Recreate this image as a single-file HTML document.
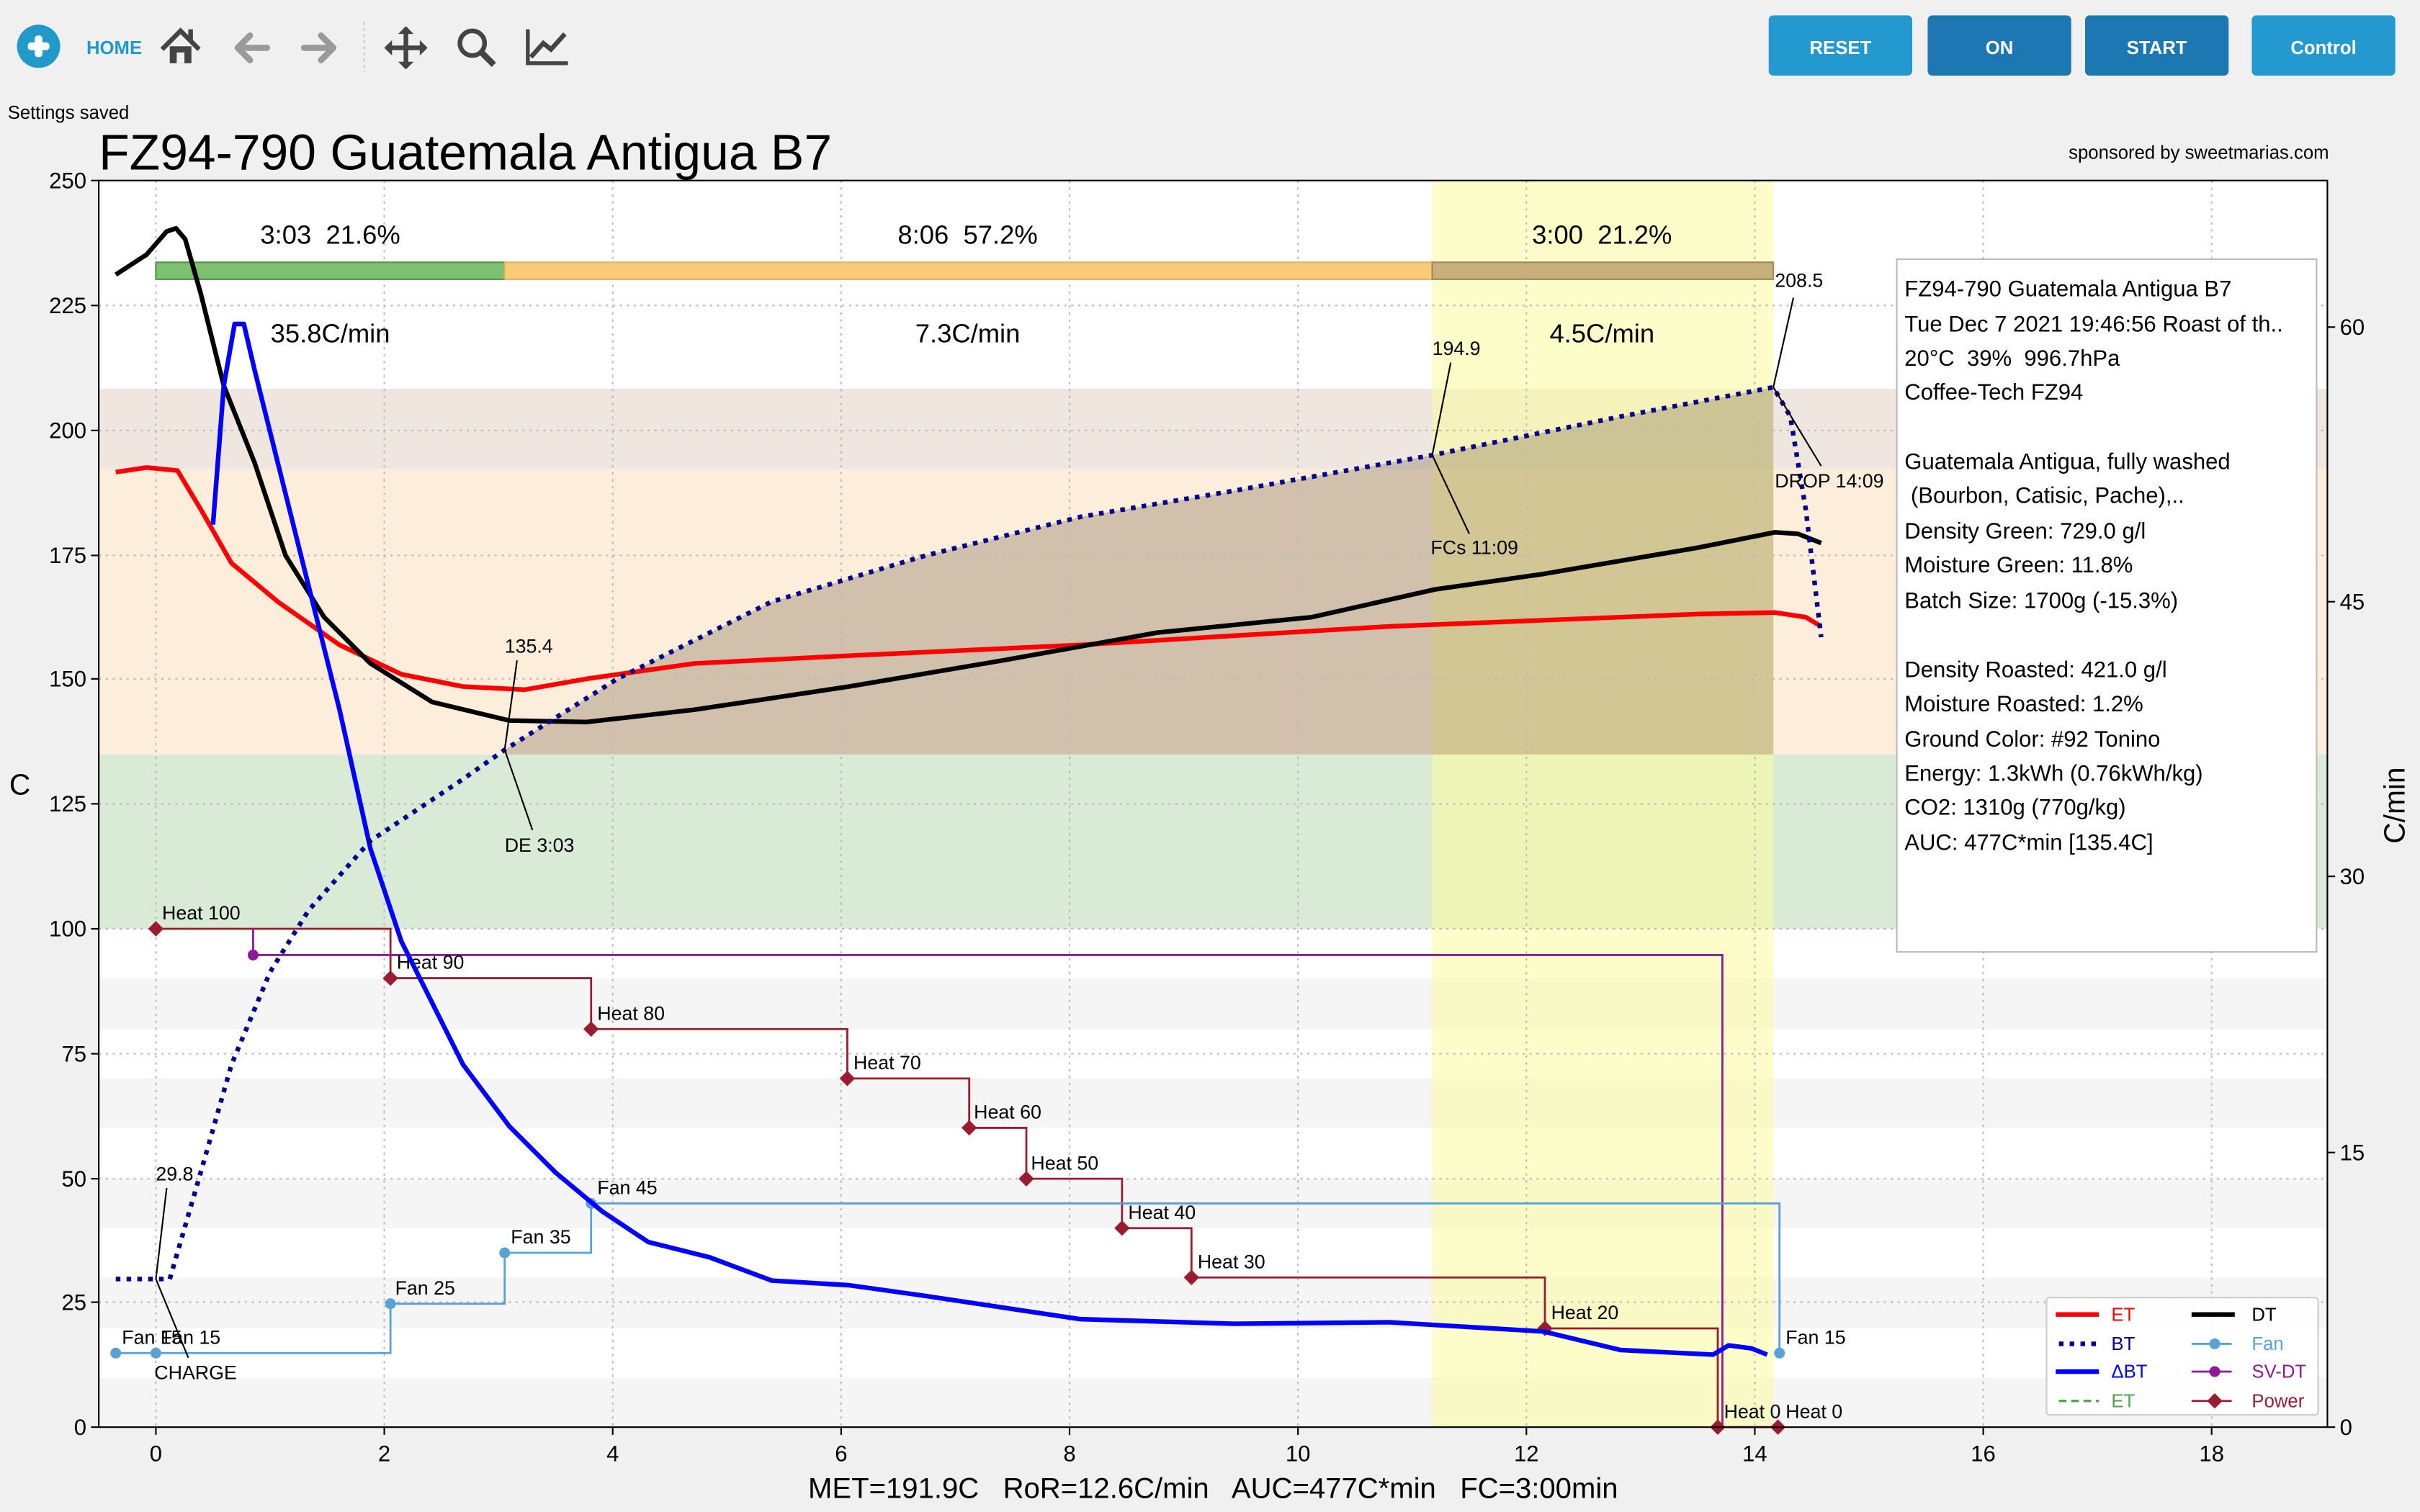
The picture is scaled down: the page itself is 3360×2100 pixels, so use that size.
<!DOCTYPE html>
<html><head><meta charset="utf-8"><style>
html,body{margin:0;padding:0;background:#f0f0f0;}
svg{display:block;font-family:"Liberation Sans",sans-serif;}
text{white-space:pre;}
</style></head><body>
<svg width="3360" height="2100" viewBox="0 0 1568 980" xmlns="http://www.w3.org/2000/svg" xml:space="preserve">
<rect width="1568" height="980" fill="#f0f0f0"/>
<circle cx="25" cy="30" r="14" fill="#229ac9"/>
<rect x="18" y="27.5" width="14" height="5" rx="2" fill="#fff"/><rect x="22.5" y="23" width="5" height="14" rx="2" fill="#fff"/>
<text x="56" y="35" font-size="12" font-weight="bold" fill="#229ac9">HOME</text>
<path d="M105 32 L117 20 L129 32" stroke="#444" stroke-width="3" fill="none"/><rect x="110" y="30" width="14" height="11" fill="#444"/><rect x="114.5" y="34" width="5" height="7" fill="#f0f0f0"/><rect x="122" y="19" width="3" height="8" fill="#444"/>
<path d="M173 31 H154 M162 23 L154 31 L162 39" stroke="#9a9a9a" stroke-width="4" fill="none" stroke-linecap="round" stroke-linejoin="round"/>
<path d="M197 31 H216 M208 23 L216 31 L208 39" stroke="#9a9a9a" stroke-width="4" fill="none" stroke-linecap="round" stroke-linejoin="round"/>
<line x1="236" y1="14" x2="236" y2="47" stroke="#ccc" stroke-dasharray="2,2"/>
<path d="M263 18 V44 M250 31 H276" stroke="#444" stroke-width="3"/><path d="M258 22 L263 17 L268 22 Z M258 40 L263 45 L268 40 Z M254 26 L249 31 L254 36 Z M272 26 L277 31 L272 36Z" fill="#444"/>
<circle cx="306" cy="28" r="8" stroke="#444" stroke-width="3" fill="none"/><line x1="312" y1="34" x2="320" y2="42" stroke="#444" stroke-width="4"/>
<path d="M342 19 V41 H368" stroke="#444" stroke-width="2.5" fill="none"/><path d="M344 37 L352 28 L357 32 L366 22" stroke="#444" stroke-width="3" fill="none"/>
<rect x="1146" y="10" width="93" height="39" rx="3" fill="#2399cf"/><text x="1192.5" y="35" font-size="12" font-weight="bold" fill="#fff" text-anchor="middle">RESET</text>
<rect x="1249" y="10" width="93" height="39" rx="3" fill="#1d77b3"/><text x="1295.5" y="35" font-size="12" font-weight="bold" fill="#fff" text-anchor="middle">ON</text>
<rect x="1351" y="10" width="93" height="39" rx="3" fill="#1d77b3"/><text x="1397.5" y="35" font-size="12" font-weight="bold" fill="#fff" text-anchor="middle">START</text>
<rect x="1459" y="10" width="93" height="39" rx="3" fill="#2399cf"/><text x="1505.5" y="35" font-size="12" font-weight="bold" fill="#fff" text-anchor="middle">Control</text>
<text x="5" y="77" font-size="12" fill="#000">Settings saved</text>
<text x="64" y="110" font-size="32.5" fill="#000">FZ94-790 Guatemala Antigua B7</text>
<text x="1509" y="103" font-size="12" fill="#000" text-anchor="end">sponsored by sweetmarias.com</text>
<rect x="64" y="117" width="1444" height="808" fill="#fff"/>
<rect x="64" y="634" width="1444" height="33" fill="#f5f5f5"/>
<rect x="64" y="699" width="1444" height="32" fill="#f5f5f5"/>
<rect x="64" y="764" width="1444" height="32" fill="#f5f5f5"/>
<rect x="64" y="828" width="1444" height="33" fill="#f5f5f5"/>
<rect x="64" y="893" width="1444" height="32" fill="#f5f5f5"/>
<rect x="64" y="489" width="1444" height="113" fill="#d9ebd6"/>
<rect x="64" y="304" width="1444" height="185" fill="#fdeedb"/>
<rect x="64" y="252" width="1444" height="52" fill="#efe6e0"/>
<rect x="928" y="117" width="221" height="808" fill="#fbfb9c" opacity="0.55"/>
<polygon points="327,486 400,440 500,390 600,360 700,335 800,318 928,295 1050,270 1149,251 1149,489 327,489" fill="#6e5a40" opacity="0.3"/>
<g stroke="#bbb" stroke-width="1" stroke-dasharray="1.5,3">
<line x1="101" y1="117" x2="101" y2="925"/><line x1="249" y1="117" x2="249" y2="925"/><line x1="397" y1="117" x2="397" y2="925"/><line x1="545" y1="117" x2="545" y2="925"/><line x1="693" y1="117" x2="693" y2="925"/><line x1="841" y1="117" x2="841" y2="925"/><line x1="989" y1="117" x2="989" y2="925"/><line x1="1137" y1="117" x2="1137" y2="925"/><line x1="1285" y1="117" x2="1285" y2="925"/><line x1="1433" y1="117" x2="1433" y2="925"/>
<line x1="64" y1="198" x2="1508" y2="198"/><line x1="64" y1="279" x2="1508" y2="279"/><line x1="64" y1="360" x2="1508" y2="360"/><line x1="64" y1="440" x2="1508" y2="440"/><line x1="64" y1="521" x2="1508" y2="521"/><line x1="64" y1="602" x2="1508" y2="602"/><line x1="64" y1="683" x2="1508" y2="683"/><line x1="64" y1="764" x2="1508" y2="764"/><line x1="64" y1="844" x2="1508" y2="844"/>
</g>
<rect x="101" y="170" width="226" height="11" fill="#7cc070" stroke="#4e9a45"/>
<rect x="327" y="170" width="601" height="11" fill="#fbcb78" stroke="#e8b060"/>
<rect x="928" y="170" width="221" height="11" fill="#c8b07c" stroke="#a08a58"/>
<g font-size="17" fill="#000" text-anchor="middle">
<text x="214" y="158">3:03  21.6%</text><text x="627" y="158">8:06  57.2%</text><text x="1038" y="158">3:00  21.2%</text>
<text x="214" y="222">35.8C/min</text><text x="627" y="222">7.3C/min</text><text x="1038" y="222">4.5C/min</text>
</g>
<polyline points="101,602 253,602 253,634 383,634 383,667 549,667 549,699 628,699 628,731 665,731 665,764 727,764 727,796 772,796 772,828 1001,828 1001,861 1113,861 1113,925 1152,925" fill="none" stroke="#9b1c2e" stroke-width="1.3"/>
<polyline points="164,602 164,619 1116,619 1116,925" fill="none" stroke="#8e1a98" stroke-width="1.3"/>
<polyline points="75,877 253,877 253,845 327,845 327,812 383,812 383,780 1153,780 1153,877" fill="none" stroke="#5aa2d6" stroke-width="1.3"/>
<g fill="#9b1c2e">
<path d="M101 597 l5 5 -5 5 -5 -5z"/><path d="M253 629 l5 5 -5 5 -5 -5z"/><path d="M383 662 l5 5 -5 5 -5 -5z"/><path d="M549 694 l5 5 -5 5 -5 -5z"/><path d="M628 726 l5 5 -5 5 -5 -5z"/><path d="M665 759 l5 5 -5 5 -5 -5z"/><path d="M727 791 l5 5 -5 5 -5 -5z"/><path d="M772 823 l5 5 -5 5 -5 -5z"/><path d="M1001 856 l5 5 -5 5 -5 -5z"/><path d="M1113 920 l5 5 -5 5 -5 -5z"/><path d="M1152 920 l5 5 -5 5 -5 -5z"/>
</g>
<circle cx="164" cy="619" r="3.5" fill="#8e1a98"/>
<g fill="#5aa2d6"><circle cx="75" cy="877" r="3.5"/><circle cx="101" cy="877" r="3.5"/><circle cx="253" cy="845" r="3.5"/><circle cx="327" cy="812" r="3.5"/><circle cx="383" cy="780" r="3.5"/><circle cx="1153" cy="877" r="3.5"/></g>
<g font-size="12.5" fill="#000">
<text x="105" y="596">Heat 100</text><text x="257" y="628">Heat 90</text><text x="387" y="661">Heat 80</text><text x="553" y="693">Heat 70</text><text x="631" y="725">Heat 60</text><text x="668" y="758">Heat 50</text><text x="731" y="790">Heat 40</text><text x="776" y="822">Heat 30</text><text x="1005" y="855">Heat 20</text><text x="1117" y="919">Heat 0</text><text x="1157" y="919">Heat 0</text>
<text x="79" y="871">Fan 15</text><text x="104" y="871">Fan 15</text><text x="256" y="839">Fan 25</text><text x="331" y="806">Fan 35</text><text x="387" y="774">Fan 45</text><text x="1157" y="871">Fan 15</text>
</g>
<polyline points="75,306 95,303 115,305 130,330 150,365 180,390 220,418 260,437 300,445 340,447 380,440 450,430 550,425 700,418 900,406 1000,402 1100,398 1150,397 1170,400 1180,406" fill="none" stroke="#ff0000" stroke-width="3" stroke-linejoin="round"/>
<polyline points="75,178 95,165 108,150 114,148 120,155 130,190 145,250 165,300 185,360 210,400 240,430 280,455 330,467 380,468 450,460 550,445 650,428 750,410 850,400 930,382 1000,372 1100,355 1150,345 1165,346 1180,352" fill="none" stroke="#000" stroke-width="3" stroke-linejoin="round"/>
<polyline points="138,340 145,250 152,210 158,210 165,240 180,300 200,380 220,460 240,550 260,610 280,650 300,690 330,730 360,760 390,785 420,805 460,815 500,830 550,833 600,840 700,855 800,858 900,857 1000,863 1050,875 1110,878 1120,872 1135,874 1145,878" fill="none" stroke="#0000ff" stroke-width="3" stroke-linejoin="round"/>
<polyline points="75,829 110,829 130,760 150,690 175,630 200,590 240,545 300,505 327,486 400,440 500,390 600,360 700,335 800,318 928,295 1050,270 1149,251 1160,270 1170,330 1180,413" fill="none" stroke="#00008b" stroke-width="3" stroke-dasharray="3,4"/>
<g stroke="#000" stroke-width="1"><line x1="101" y1="829" x2="122" y2="880"/><line x1="101" y1="829" x2="108" y2="770"/><line x1="327" y1="486" x2="345" y2="538"/><line x1="327" y1="486" x2="335" y2="428"/><line x1="928" y1="295" x2="952" y2="346"/><line x1="928" y1="295" x2="940" y2="235"/><line x1="1149" y1="251" x2="1180" y2="302"/><line x1="1149" y1="251" x2="1162" y2="193"/></g>
<g font-size="12.5" fill="#000">
<text x="101" y="765">29.8</text><text x="100" y="894">CHARGE</text><text x="327" y="423">135.4</text><text x="327" y="552">DE 3:03</text><text x="928" y="230">194.9</text><text x="927" y="359">FCs 11:09</text><text x="1150" y="186">208.5</text><text x="1150" y="316">DROP 14:09</text>
</g>
<rect x="1229" y="168" width="272" height="449" fill="#fff" stroke="#bbb"/>
<g font-size="14.5" fill="#000">
<text x="1234" y="192">FZ94-790 Guatemala Antigua B7</text><text x="1234" y="215">Tue Dec 7 2021 19:46:56 Roast of th..</text><text x="1234" y="237">20°C  39%  996.7hPa</text><text x="1234" y="259">Coffee-Tech FZ94</text>
<text x="1234" y="304">Guatemala Antigua, fully washed</text><text x="1234" y="326"> (Bourbon, Catisic, Pache),..</text><text x="1234" y="349">Density Green: 729.0 g/l</text><text x="1234" y="371">Moisture Green: 11.8%</text><text x="1234" y="394">Batch Size: 1700g (-15.3%)</text>
<text x="1234" y="439">Density Roasted: 421.0 g/l</text><text x="1234" y="461">Moisture Roasted: 1.2%</text><text x="1234" y="484">Ground Color: #92 Tonino</text><text x="1234" y="506">Energy: 1.3kWh (0.76kWh/kg)</text><text x="1234" y="528">CO2: 1310g (770g/kg)</text><text x="1234" y="551">AUC: 477C*min [135.4C]</text>
</g>
<rect x="1326" y="841" width="176" height="76" rx="2" fill="#fff" fill-opacity="0.85" stroke="#ccc"/>
<g font-size="12">
<line x1="1332" y1="852" x2="1360" y2="852" stroke="#f00" stroke-width="3"/><text x="1368" y="856" fill="#f00">ET</text>
<line x1="1334" y1="871" x2="1360" y2="871" stroke="#00008b" stroke-width="3" stroke-dasharray="3,4"/><text x="1368" y="875" fill="#00008b">BT</text>
<line x1="1332" y1="889" x2="1360" y2="889" stroke="#00f" stroke-width="3"/><text x="1368" y="893" fill="#00f">ΔBT</text>
<line x1="1334" y1="908" x2="1360" y2="908" stroke="#4ea34a" stroke-width="1.5" stroke-dasharray="5,3"/><text x="1368" y="912" fill="#4ea34a">ET</text>
<line x1="1420" y1="852" x2="1448" y2="852" stroke="#000" stroke-width="3"/><text x="1459" y="856" fill="#000">DT</text>
<line x1="1420" y1="871" x2="1446" y2="871" stroke="#5aa2d6" stroke-width="1.3"/><circle cx="1435" cy="871" r="3.5" fill="#5aa2d6"/><text x="1459" y="875" fill="#5aa2d6">Fan</text>
<line x1="1420" y1="889" x2="1446" y2="889" stroke="#8e1a98" stroke-width="1.3"/><circle cx="1435" cy="889" r="3.5" fill="#8e1a98"/><text x="1459" y="893" fill="#8e1a98">SV-DT</text>
<line x1="1420" y1="908" x2="1446" y2="908" stroke="#9b1c2e" stroke-width="1.3"/><path d="M1435 903 l5 5 -5 5 -5 -5z" fill="#9b1c2e"/><text x="1459" y="912" fill="#9b1c2e">Power</text>
</g>
<rect x="64" y="117" width="1444" height="808" fill="none" stroke="#000" stroke-width="1"/>
<g stroke="#000" stroke-width="1">
<line x1="59" y1="117" x2="64" y2="117"/><line x1="59" y1="198" x2="64" y2="198"/><line x1="59" y1="279" x2="64" y2="279"/><line x1="59" y1="360" x2="64" y2="360"/><line x1="59" y1="440" x2="64" y2="440"/><line x1="59" y1="521" x2="64" y2="521"/><line x1="59" y1="602" x2="64" y2="602"/><line x1="59" y1="683" x2="64" y2="683"/><line x1="59" y1="764" x2="64" y2="764"/><line x1="59" y1="844" x2="64" y2="844"/><line x1="59" y1="925" x2="64" y2="925"/>
<line x1="101" y1="925" x2="101" y2="930"/><line x1="249" y1="925" x2="249" y2="930"/><line x1="397" y1="925" x2="397" y2="930"/><line x1="545" y1="925" x2="545" y2="930"/><line x1="693" y1="925" x2="693" y2="930"/><line x1="841" y1="925" x2="841" y2="930"/><line x1="989" y1="925" x2="989" y2="930"/><line x1="1137" y1="925" x2="1137" y2="930"/><line x1="1285" y1="925" x2="1285" y2="930"/><line x1="1433" y1="925" x2="1433" y2="930"/>
<line x1="1508" y1="925" x2="1513" y2="925"/><line x1="1508" y1="747" x2="1513" y2="747"/><line x1="1508" y1="568" x2="1513" y2="568"/><line x1="1508" y1="390" x2="1513" y2="390"/><line x1="1508" y1="212" x2="1513" y2="212"/>
</g>
<g font-size="14.5" fill="#000" text-anchor="end">
<text x="56" y="122">250</text><text x="56" y="203">225</text><text x="56" y="284">200</text><text x="56" y="365">175</text><text x="56" y="445">150</text><text x="56" y="526">125</text><text x="56" y="607">100</text><text x="56" y="688">75</text><text x="56" y="769">50</text><text x="56" y="849">25</text><text x="56" y="930">0</text>
</g>
<g font-size="14.5" fill="#000" text-anchor="middle">
<text x="101" y="947">0</text><text x="249" y="947">2</text><text x="397" y="947">4</text><text x="545" y="947">6</text><text x="693" y="947">8</text><text x="841" y="947">10</text><text x="989" y="947">12</text><text x="1137" y="947">14</text><text x="1285" y="947">16</text><text x="1433" y="947">18</text>
</g>
<g font-size="14.5" fill="#000">
<text x="1516" y="930">0</text><text x="1516" y="752">15</text><text x="1516" y="573">30</text><text x="1516" y="395">45</text><text x="1516" y="217">60</text>
</g>
<text x="6" y="515" font-size="19" fill="#000">C</text>
<text x="1558" y="522" font-size="19" fill="#000" text-anchor="middle" transform="rotate(-90 1558 522)">C/min</text>
<text x="786" y="971" font-size="18.7" fill="#000" text-anchor="middle">MET=191.9C   RoR=12.6C/min   AUC=477C*min   FC=3:00min</text>
</svg>
</body></html>
